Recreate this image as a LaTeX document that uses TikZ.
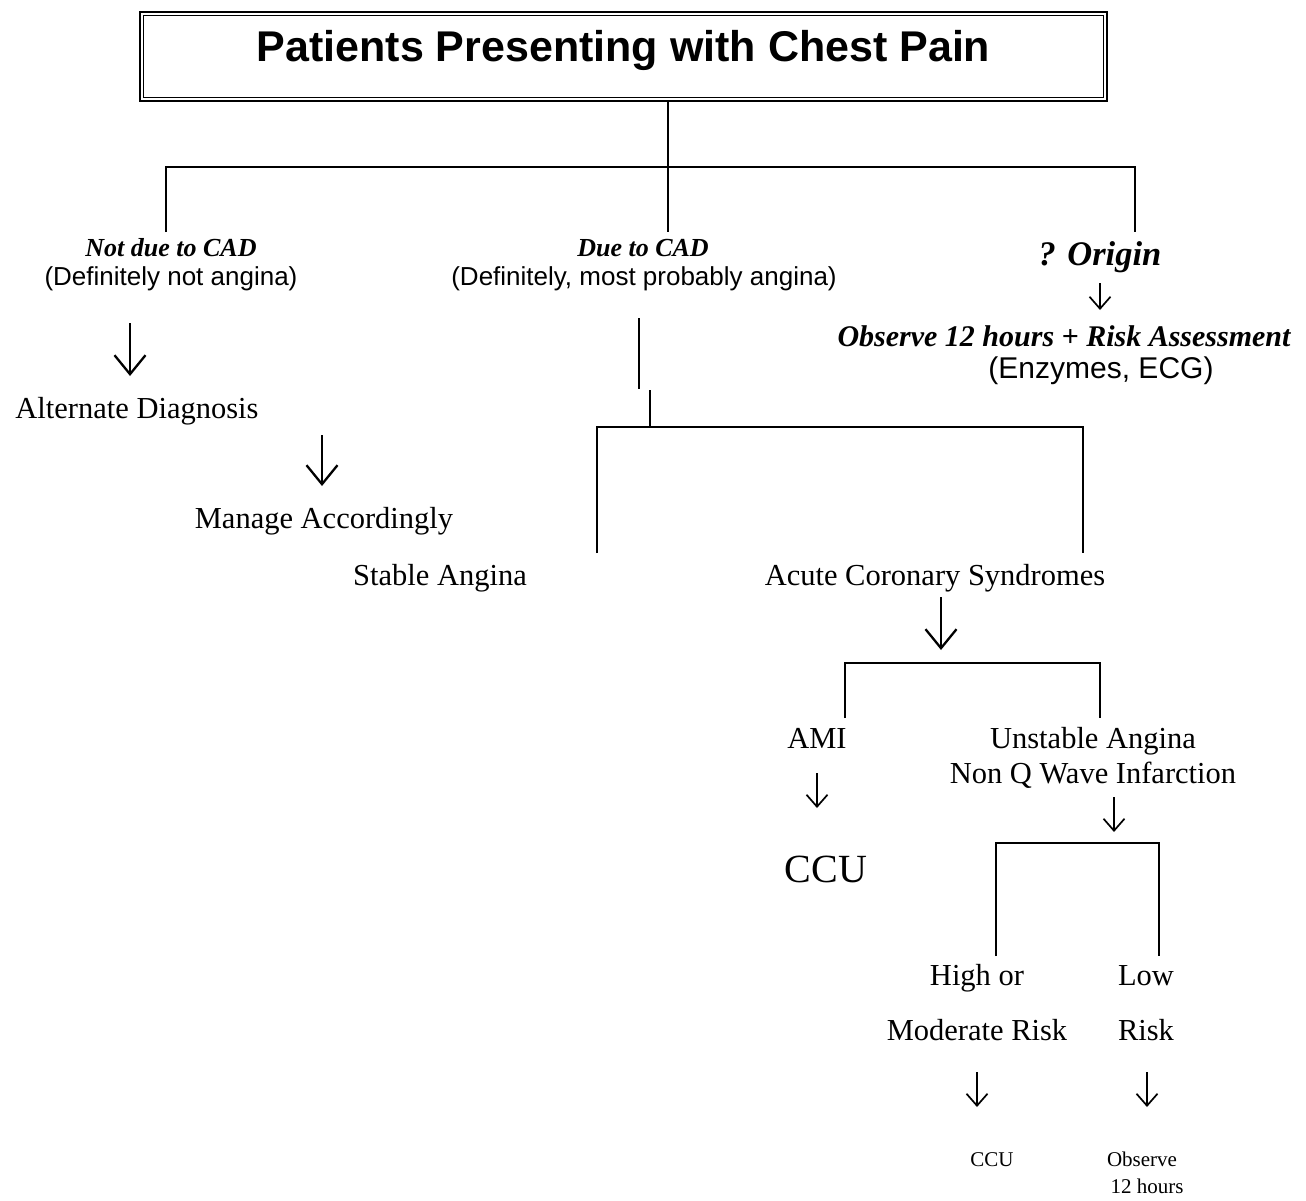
\documentclass[tikz,border=0pt]{standalone}
\usepackage{fontspec}
\setmainfont{Liberation Serif}
\newfontfamily\arialf{Liberation Sans}
\usetikzlibrary{arrows.meta}
\newcommand{\myfs}[1]{\fontsize{#1}{#1}\selectfont}
\begin{document}
\begin{tikzpicture}[x=1pt,y=-1pt,
  txt/.style={inner sep=0pt, anchor=base},
  conn/.style={line width=2.2pt, line cap=butt},
  bigarrow/.style={line width=2.3pt, -{Straight Barb[length=19pt,width=31pt,line width=2.3pt]}},
  smallarrow/.style={line width=1.7pt, -{Straight Barb[length=12pt,width=21pt,line width=1.7pt]}},
  bi/.style={font=\bfseries\itshape\myfs{#1}},
  ar/.style={font=\arialf\myfs{#1}},
  tm/.style={font=\myfs{#1}}
]
\useasboundingbox (0,0) rectangle (1306,1200);
% title
\node[draw, line width=2.5pt, minimum width=967pt, minimum height=89pt, inner sep=0pt] (titlebox) at (623.5,56.5) {};
\draw[line width=1.2pt] ([shift={(4.5pt,-4.5pt)}]titlebox.north west) rectangle ([shift={(-4.5pt,4.5pt)}]titlebox.south east);
\node[txt, font=\arialf\bfseries\myfs{43}] (titletext) at (623.5,61) {Patients Presenting with Chest Pain};

% texts
\node[txt, bi=26] (notcad) at (171,256) {Not due to CAD};
\node[txt, ar=26] (notcadsub) at (171,285) {(Definitely not angina)};
\node[txt, bi=26] (cad) at (643,256) {Due to CAD};
\node[txt, ar=26] (cadsub) at (644,285) {(Definitely, most probably angina)};
\node[txt, bi=34.5] (origin) at (1100,265) {? Origin};
\node[txt, bi=30] (observe) at (1064,346) {Observe 12 hours + Risk Assessment};
\node[txt, ar=30] (enz) at (1101,378) {(Enzymes, ECG)};
\node[txt, tm=30.5] (alt) at (137,418) {Alternate Diagnosis};
\node[txt, tm=30.5] (manage) at (324,528) {Manage Accordingly};
\node[txt, tm=30.5] (stable) at (440,585) {Stable Angina};
\node[txt, tm=30.5] (acs) at (935,585) {Acute Coronary Syndromes};
\node[txt, tm=30.5] (ami) at (817,748) {AMI};
\node[txt, tm=30.5] (ua) at (1093,748) {Unstable Angina};
\node[txt, tm=30.5] (nq) at (1093,783) {Non Q Wave Infarction};
\node[txt, tm=40] (ccu) at (826,882) {CCU};
\node[txt, tm=30.5] (high) at (977,985) {High or};
\node[txt, tm=30.5] (low) at (1146,985) {Low};
\node[txt, tm=30.5] (mod) at (977,1040) {Moderate Risk};
\node[txt, tm=30.5] (risk) at (1146,1040) {Risk};
\node[txt, tm=21] (ccusmall) at (992,1166) {CCU};
\node[txt, tm=21] (obs) at (1142,1166) {Observe};
\node[txt, tm=21] (hrs) at (1147,1193) {12 hours};

% coordinates of the tree
\coordinate (t0) at (668,101);
\coordinate (b1l) at (166,167);
\coordinate (b1r) at (1135,167);
\coordinate (d1l) at (166,232);
\coordinate (d1m) at (668,232);
\coordinate (d1r) at (1135,232);
\coordinate (s1a) at (639,318);
\coordinate (s1b) at (639,389);
\coordinate (s2a) at (650,390);
\coordinate (s2b) at (650,427);
\coordinate (b2l) at (597,427);
\coordinate (b2r) at (1083,427);
\coordinate (d2l) at (597,553);
\coordinate (d2r) at (1083,553);
\coordinate (b3l) at (845,663);
\coordinate (b3r) at (1100,663);
\coordinate (d3l) at (845,718);
\coordinate (d3r) at (1100,718);
\coordinate (b4l) at (996,843);
\coordinate (b4r) at (1159,843);
\coordinate (d4l) at (996,956);
\coordinate (d4r) at (1159,956);

\draw[conn] (d1l) -- (b1l) -- (b1r) -- (d1r);
\draw[conn] (t0) -- (d1m);
\draw[conn] (s1a) -- (s1b);
\draw[conn] (s2a) -- (s2b);
\draw[conn] (d2l) -- (b2l) -- (b2r) -- (d2r);
\draw[conn] (d3l) -- (b3l) -- (b3r) -- (d3r);
\draw[conn] (d4l) -- (b4l) -- (b4r) -- (d4r);

% arrows
\coordinate (a1s) at (130,323); \coordinate (a1e) at (130,376);
\coordinate (a2s) at (322,435); \coordinate (a2e) at (322,486);
\coordinate (a3s) at (941,597); \coordinate (a3e) at (941,650);
\coordinate (a4s) at (1100,283); \coordinate (a4e) at (1100,310);
\coordinate (a5s) at (817,773); \coordinate (a5e) at (817,808);
\coordinate (a6s) at (1114,797); \coordinate (a6e) at (1114,832);
\coordinate (a7s) at (977,1072); \coordinate (a7e) at (977,1107);
\coordinate (a8s) at (1147,1072); \coordinate (a8e) at (1147,1107);
\draw[bigarrow] (a1s) -- (a1e);
\draw[bigarrow] (a2s) -- (a2e);
\draw[bigarrow] (a3s) -- (a3e);
\draw[smallarrow] (a4s) -- (a4e);
\draw[smallarrow] (a5s) -- (a5e);
\draw[smallarrow] (a6s) -- (a6e);
\draw[smallarrow] (a7s) -- (a7e);
\draw[smallarrow] (a8s) -- (a8e);
\end{tikzpicture}
\end{document}
